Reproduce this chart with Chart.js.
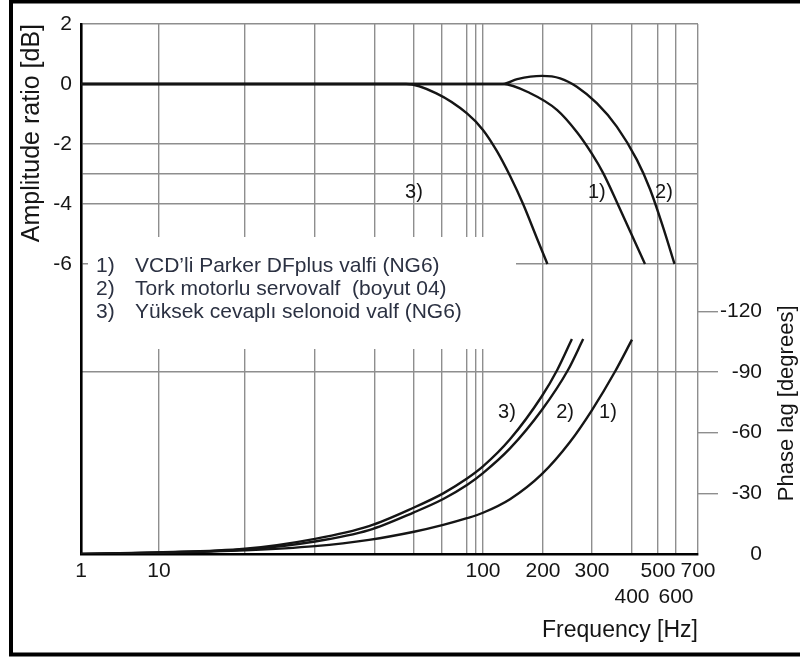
<!DOCTYPE html>
<html>
<head>
<meta charset="utf-8">
<script src="https://cdn.jsdelivr.net/npm/chart.js@4.4.0/dist/chart.umd.min.js"></script>
<style>
  html, body { margin: 0; padding: 0; background: #fff; }
</style>
</head>
<body>
<canvas id="bode" width="800" height="657"></canvas>
<script>
// --- axis ticks -------------------------------------------------------
// the printed frequency axis is not a true log axis, so grid lines are listed one by one
const freqGrid = [1, 10, 20, 30, 40, 50, 60, 80, 90, 100, 200, 300, 400, 500, 600, 700];
const freqLabelled = [1, 10, 100, 200, 300, 400, 500, 600, 700];
const freqSecondRow = [400, 600];
const ampTicks = [2, 0, -2, -3, -4, -6];
const ampLabelled = [2, 0, -2, -4, -6];
const phaseTicks = [-120, -90, -60, -30, 0];

// --- series -----------------------------------------------------------
const seriesNames = [
  'VCD’li Parker DFplus valfi (NG6)',
  'Tork motorlu servovalf  (boyut 04)',
  'Yüksek cevaplı selonoid valf (NG6)'
];
const seriesTags = ['1)', '2)', '3)'];

// amplitude ratio [dB]
const amp1Freq = [1, 10, 50, 100, 133, 178, 229, 269, 300, 328, 362, 395, 450];
const amp1Db   = [0, 0, 0, 0, 0, -0.3, -0.87, -1.6, -2.33, -2.97, -3.93, -4.9, -6];
const amp2Freq = [1, 10, 50, 100, 133, 157, 198, 235, 269, 312, 362, 419, 469, 528, 592];
const amp2Db   = [0, 0, 0, 0, 0, 0.16, 0.27, 0.19, -0.09, -0.64, -1.42, -2.53, -3.5, -4.77, -6];
const amp3Freq = [1, 10, 40, 48, 58, 80, 100, 123, 145, 167, 190, 209];
const amp3Db   = [0, 0, 0, 0, -0.31, -0.98, -1.53, -2.23, -3.06, -4.01, -5.15, -6];

// phase lag [degrees]
const ph1Freq = [1, 10, 20, 30, 39, 50, 61, 80, 100, 145, 198, 255, 300, 357, 400];
const ph1Deg  = [0, -0.6, -1.8, -3.9, -7, -11, -14.4, -17.7, -20.4, -27.1, -39.5, -55.4, -71.2, -90, -106];
const ph2Freq = [1, 10, 20, 30, 39, 50, 61, 80, 100, 145, 198, 251, 282];
const ph2Deg  = [0, -0.8, -2.2, -6.2, -11.8, -20.6, -27.2, -34.1, -40, -52.2, -71.2, -91, -106.3];
const ph3Freq = [1, 10, 20, 30, 39, 50, 61, 80, 100, 145, 198, 229, 259];
const ph3Deg  = [0, -0.8, -2.6, -7.5, -13.8, -23, -30, -37.3, -43.3, -56.7, -78, -91, -106.3];

// curve tags: [freq, value]
const ampTagAt = [[312, -3.63], [533, -3.63], [50, -3.63]];
const phTagAt  = [[340, -69.8], [245, -69.8], [140, -69.8]];

const GRID = '#8e8e8e';
const INK = '#151515';
const FONT = "'Liberation Sans', Arial, sans-serif";

// where each grid frequency sits along the printed axis (0..1)
const freqKnots = [0, .1264, .2658, .3793, .4765, .5397, .5851, .6256, .6402, .6515,
                   .7488, .8282, .8930, .9352, .9643, 1];

function freqToFrac(v) {
  if (v <= freqGrid[0]) return 0;
  for (let i = 1; i < freqGrid.length; i++) {
    if (v <= freqGrid[i]) {
      const t = (v - freqGrid[i - 1]) / (freqGrid[i] - freqGrid[i - 1]);
      return freqKnots[i - 1] + t * (freqKnots[i] - freqKnots[i - 1]);
    }
  }
  return 1;
}
function fracToFreq(f) {
  for (let i = 1; i < freqKnots.length; i++) {
    if (f <= freqKnots[i]) {
      const t = (f - freqKnots[i - 1]) / (freqKnots[i] - freqKnots[i - 1]);
      return freqGrid[i - 1] + t * (freqGrid[i] - freqGrid[i - 1]);
    }
  }
  return freqGrid[freqGrid.length - 1];
}

class PrintedFreqScale extends Chart.LinearScale {
  getPixelForValue(v) {
    return this.getPixelForDecimal(freqToFrac(v));
  }
  getValueForPixel(p) {
    return fracToFreq(this.getDecimalForPixel(p));
  }
}
PrintedFreqScale.id = 'printedFreq';
PrintedFreqScale.defaults = Chart.LinearScale.defaults;
Chart.register(PrintedFreqScale);

const zip = (xs, ys) => xs.map((x, i) => ({ x: x, y: ys[i] }));

function curve(xs, ys, axis) {
  return {
    data: zip(xs, ys),
    yAxisID: axis,
    borderColor: INK,
    borderWidth: 2.4,
    pointRadius: 0,
    fill: false,
    cubicInterpolationMode: 'monotone'
  };
}

// white legend panel + numbered entries
const legendBox = {
  id: 'legendBox',
  beforeDatasetsDraw(chart) {
    const ctx = chart.ctx;
    ctx.save();
    ctx.fillStyle = '#fff';
    ctx.fillRect(88, 237, 428, 112);
    ctx.fillStyle = '#2b3142';
    ctx.font = '21px ' + FONT;
    ctx.textBaseline = 'middle';
    seriesNames.forEach((name, i) => {
      const y = 266 + i * 23;
      ctx.fillText(seriesTags[i], 96, y);
      ctx.fillText(name, 135, y);
    });
    ctx.restore();
  }
};

// "1) 2) 3)" beside curves
const curveTags = {
  id: 'curveTags',
  afterDatasetsDraw(chart) {
    const { ctx, scales } = chart;
    ctx.save();
    ctx.fillStyle = INK;
    ctx.font = '20px ' + FONT;
    ctx.textAlign = 'center';
    ctx.textBaseline = 'middle';
    ampTagAt.forEach((p, i) => {
      ctx.fillText(seriesTags[i], scales.x.getPixelForValue(p[0]), scales.yAmp.getPixelForValue(p[1]));
    });
    phTagAt.forEach((p, i) => {
      ctx.fillText(seriesTags[i], scales.x.getPixelForValue(p[0]), scales.yPhase.getPixelForValue(p[1]));
    });
    ctx.restore();
  }
};

// right-hand title reads bottom-to-top, plus the outer frame (left, top, bottom)
const phaseTitle = {
  id: 'phaseTitle',
  afterDraw(chart) {
    const { ctx, scales } = chart;
    const yMid = scales.yPhase.getPixelForValue(-74.5);
    ctx.save();
    ctx.translate(787, yMid);
    ctx.rotate(-Math.PI / 2);
    ctx.fillStyle = INK;
    ctx.font = '22px ' + FONT;
    ctx.textAlign = 'center';
    ctx.textBaseline = 'middle';
    ctx.fillText('Phase lag [degrees]', 0, 0);
    ctx.restore();

    ctx.save();
    ctx.strokeStyle = '#000';
    ctx.lineWidth = 4;
    ctx.beginPath();
    ctx.moveTo(800, 1.5);
    ctx.lineTo(11, 1.5);
    ctx.lineTo(11, 654.5);
    ctx.lineTo(800, 654.5);
    ctx.stroke();
    ctx.restore();
  }
};

Chart.defaults.font.family = FONT;
Chart.defaults.color = INK;

new Chart(document.getElementById('bode'), {
  type: 'line',
  data: {
    datasets: [
      curve(amp1Freq, amp1Db, 'yAmp'),
      curve(amp2Freq, amp2Db, 'yAmp'),
      curve(amp3Freq, amp3Db, 'yAmp'),
      curve(ph1Freq, ph1Deg, 'yPhase'),
      curve(ph2Freq, ph2Deg, 'yPhase'),
      curve(ph3Freq, ph3Deg, 'yPhase')
    ]
  },
  options: {
    responsive: false,
    animation: false,
    layout: { padding: { top: 24, left: 0, right: 38, bottom: 0 } },
    plugins: { legend: { display: false }, tooltip: { enabled: false } },
    scales: {
      x: {
        type: 'printedFreq',
        min: 1,
        max: 700,
        afterBuildTicks: s => { s.ticks = freqGrid.map(v => ({ value: v })); },
        afterFit: s => { s.height = 103; },
        grid: { color: GRID, lineWidth: 1.4, drawTicks: false },
        border: { color: '#000', width: 2.6 },
        ticks: {
          autoSkip: false,
          maxRotation: 0,
          padding: 5,
          font: { size: 21 },
          callback: v => {
            if (!freqLabelled.includes(v)) return '';
            return freqSecondRow.includes(v) ? ['', String(v)] : String(v);
          }
        },
        title: {
          display: true,
          text: 'Frequency [Hz]',
          align: 'end',
          font: { size: 23 },
          padding: { top: 0, bottom: 13 }
        }
      },
      yAmp: {
        position: 'left',
        min: -15.667,
        max: 2,
        afterBuildTicks: s => { s.ticks = ampTicks.map(v => ({ value: v })); },
        afterFit: s => { s.width = 81; },
        grid: { color: GRID, lineWidth: 1.4, drawTicks: false },
        border: { color: '#000', width: 2.6 },
        ticks: {
          padding: 9,
          font: { size: 21 },
          callback: v => ampLabelled.includes(v) ? String(v) : ''
        },
        title: {
          display: true,
          text: 'Amplitude ratio [dB]',
          align: 'end',
          font: { size: 25 },
          padding: { top: 17, bottom: 0 }
        }
      },
      yPhase: {
        position: 'right',
        reverse: true,
        min: -262.1,
        max: 0,
        afterBuildTicks: s => { s.ticks = phaseTicks.map(v => ({ value: v })); },
        afterFit: s => { s.width = 64; },
        grid: {
          lineWidth: 1.4,
          tickLength: 20,
          color: c => (c.tick && c.tick.value === -90) ? GRID : 'rgba(0,0,0,0)',
          tickColor: c => (c.tick && c.tick.value === 0) ? 'rgba(0,0,0,0)' : GRID
        },
        border: { display: false },
        ticks: {
          padding: 4,
          crossAlign: 'far',
          font: { size: 21 },
          callback: v => String(v)
        }
      }
    }
  },
  plugins: [legendBox, curveTags, phaseTitle]
});
</script>
</body>
</html>
